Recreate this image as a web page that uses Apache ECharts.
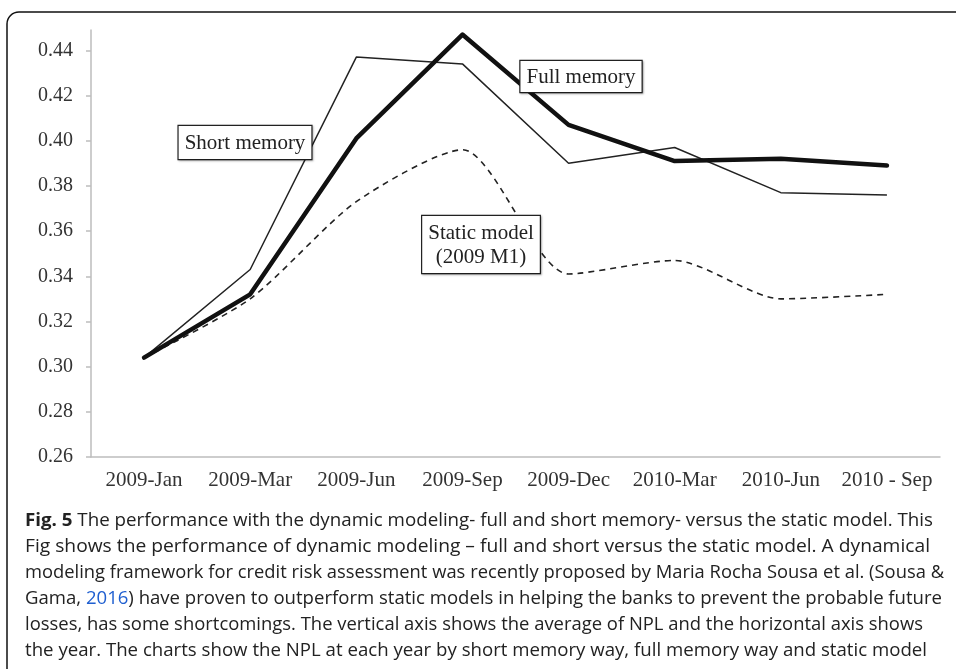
<!DOCTYPE html>
<html>
<head>
<meta charset="utf-8">
<script src="https://cdn.jsdelivr.net/npm/echarts@6/dist/echarts.min.js"></script>
<style>
  html, body { margin: 0; padding: 0; background: #fff; }
  #main { width: 956px; height: 669px; }
</style>
</head>
<body>
<div id="main"></div>
<script>
// categories along the x axis
var months = ['2009-Jan', '2009-Mar', '2009-Jun', '2009-Sep', '2009-Dec', '2010-Mar', '2010-Jun', '2010 - Sep']
// average NPL
var fullMemory = [0.304, 0.332, 0.401, 0.447, 0.407, 0.391, 0.392, 0.389]
var shortMemory = [0.304, 0.343, 0.437, 0.434, 0.390, 0.397, 0.377, 0.376]
var staticModel = [0.304, 0.330, 0.373, 0.396, 0.341, 0.347, 0.330, 0.332]
var yTicks = [0.26, 0.28, 0.30, 0.32, 0.34, 0.36, 0.38, 0.40, 0.42, 0.44]

var captionLines = [
  '{b|Fig. 5} The performance with the dynamic modeling- full and short memory- versus the static model. This',
  'Fig shows the performance of dynamic modeling \u2013 full and short versus the static model. A dynamical',
  'modeling framework for credit risk assessment was recently proposed by Maria Rocha Sousa et al. (Sousa &',
  'Gama, {l|2016}) have proven to outperform static models in helping the banks to prevent the probable future',
  'losses, has some shortcomings. The vertical axis shows the average of NPL and the horizontal axis shows',
  'the year. The charts show the NPL at each year by short memory way, full memory way and static model'
]
// where each caption line ends in the original
var captionEnds = [933, 930, 944, 942, 923, 927]

var serif = '"Liberation Serif", "DejaVu Serif", serif'
var sans = '"Open Sans", sans-serif'
var chart = echarts.init(document.getElementById('main'))

// measure a caption line so it can be stretched to its original width
var ctx = document.createElement('canvas').getContext('2d')
function lineWidth(line) {
  var w = 0
  var m = line.match(/\{b\|([^}]*)\}/)
  if (m) {
    ctx.font = 'bold 18px ' + sans
    w += ctx.measureText(m[1]).width
    line = line.replace(m[0], '')
  }
  ctx.font = '18px ' + sans
  w += ctx.measureText(line.replace(/\{l\|([^}]*)\}/, '$1')).width
  return w
}

// little boxed labels that sit on the plot (cx = centre of the box)
function boxLabel(cx, y, txt, pad) {
  return {
    type: 'text',
    x: cx,
    y: y,
    z: 50,
    style: {
      text: txt,
      font: '21px ' + serif,
      fill: '#222',
      align: 'center',
      verticalAlign: 'top',
      lineHeight: 24,
      backgroundColor: '#fff',
      borderColor: '#222',
      borderWidth: 1.2,
      padding: pad,
      shadowColor: 'rgba(0,0,0,0.25)',
      shadowBlur: 2,
      shadowOffsetX: 1,
      shadowOffsetY: 1
    }
  }
}

var graphics = [
  {
    type: 'rect',
    shape: { x: 7, y: 12, width: 1000, height: 720, r: 12 },
    style: { fill: 'none', stroke: '#111', lineWidth: 1.5 },
    z: 100
  },
  boxLabel(245, 126, 'Short memory', [5, 6, 4, 6]),
  boxLabel(581, 61, 'Full memory', [4, 6, 3, 6]),
  boxLabel(481, 216, 'Static model\n(2009 M1)', [5, 6, 4, 6])
]

captionLines.forEach(function (line, i) {
  graphics.push({
    type: 'text',
    x: 25,
    y: 521 + i * 25.9,
    scaleX: (captionEnds[i] - 25) / lineWidth(line),
    style: {
      text: line,
      font: '18px ' + sans,
      fill: '#222',
      verticalAlign: 'middle',
      rich: {
        b: { font: 'bold 18px ' + sans, fill: '#222' },
        l: { font: '18px ' + sans, fill: '#1f5fd0' }
      }
    }
  })
})

var option = {
  backgroundColor: '#fff',
  animation: false,
  grid: {
    left: 91,
    right: 16,
    top: 30,
    bottom: 212
  },
  xAxis: {
    type: 'category',
    data: months,
    boundaryGap: true,
    axisLine: { lineStyle: { color: '#bdbdbd', width: 1.5 } },
    axisTick: { interval: 0, length: 4, lineStyle: { color: '#bdbdbd', width: 1.5 } },
    axisLabel: {
      interval: 0,
      margin: 13,
      color: '#333',
      fontFamily: serif,
      fontSize: 21
    },
    splitLine: { show: false }
  },
  yAxis: {
    type: 'value',
    min: 0.26,
    max: 0.449,
    axisLine: { show: true, lineStyle: { color: '#bdbdbd', width: 1.5 } },
    axisTick: { show: true, length: 5, customValues: yTicks, lineStyle: { color: '#bdbdbd', width: 1.5 } },
    axisLabel: {
      customValues: yTicks,
      margin: 18,
      color: '#333',
      fontFamily: serif,
      fontSize: 20,
      formatter: function (v) { return v.toFixed(2) }
    },
    splitLine: { show: false }
  },
  series: [
    {
      name: 'Short memory',
      type: 'line',
      data: shortMemory,
      symbol: 'none',
      lineStyle: { color: '#222', width: 1.5 }
    },
    {
      name: 'Static model',
      type: 'line',
      data: staticModel,
      symbol: 'none',
      smooth: 0.25,
      lineStyle: { color: '#222', width: 1.6, type: [6, 5] }
    },
    {
      name: 'Full memory',
      type: 'line',
      data: fullMemory,
      symbol: 'none',
      lineStyle: { color: '#111', width: 4.5, join: 'round', cap: 'round' }
    }
  ],
  graphic: graphics
}

chart.setOption(option)
</script>
</body>
</html>
